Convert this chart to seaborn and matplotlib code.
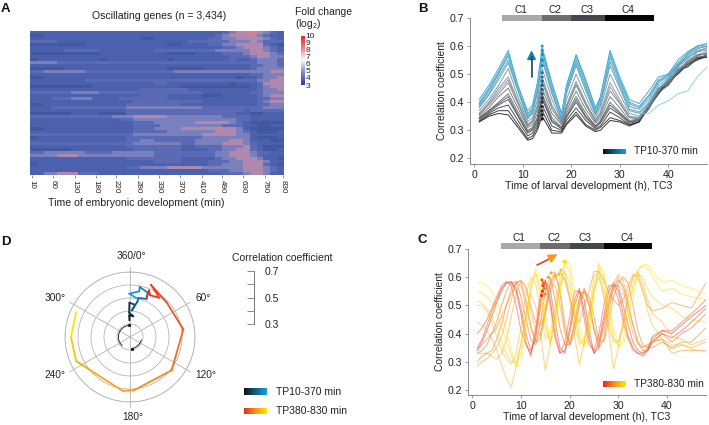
import numpy as np
import pandas as pd
import seaborn as sns
import matplotlib
matplotlib.use("Agg")
import matplotlib.pyplot as plt
from matplotlib.colors import LinearSegmentedColormap

W, H = 709, 425
TXT = "#222222"

sns.set_theme(style="ticks")
plt.rcParams["font.family"] = ["Liberation Sans", "DejaVu Sans"]
plt.rcParams["mathtext.default"] = "regular"
plt.rcParams["axes.edgecolor"] = "#8a8a8a"
plt.rcParams["axes.linewidth"] = 0.7

# panel A, one digit per cell, relative fold change level
time_labels = [10, 60, 130, 180, 220, 280, 330, 370, 410, 490, 630, 760, 830]
heat_rows = [
    "4444444444 4444444444 4444444456 7887654",
    "3344444444 4444444444 4444444567 7776544",
    "4444444444 4444443344 4444445566 7777654",
    "5555444444 4444444444 4445555556 6676555",
    "3333333344 4444444444 3344445566 7777543",
    "4444444444 4444444444 4444444455 6777654",
    "4444455555 4444444455 5555555666 6677654",
    "3333333333 4444444444 3333444455 5677765",
    "4444444444 4444444444 4444444445 5567766",
    "3444444444 3444444444 3444444445 4456665",
    "6666555555 5555555555 5555555555 5556665",
    "4444444444 4444444444 4444444444 4455665",
    "3333344444 4444444444 3333344444 4456666",
    "5566666655 5555555555 5666666666 6666677",
    "4444444444 4444444444 4444444444 4455666",
    "3344444444 4444444444 4444444444 3445667",
    "4444444455 5555555555 5555555555 5556677",
    "4444444444 4444444455 4444444443 4445777",
    "3333333334 4444444444 4433333333 3345677",
    "4444444444 4444445555 5554444444 4445667",
    "5555556666 5555555555 5555544444 4455666",
    "4444444444 4444445555 4444433344 4445677",
    "4445556664 4445555555 4444444444 4445566",
    "4444444444 4444455555 5555544444 4445677",
    "3344444444 4444555555 5544444444 4445566",
    "4445555555 5555666666 6666655555 5555666",
    "4444444444 4444555555 5555555555 5455555",
    "3333334444 3333555555 5555555555 4433444",
    "5555555555 5566677777 6666666655 5544444",
    "4444444444 4445566666 6666666666 5544444",
    "4444444444 4444455566 6666777776 5433333",
    "4444444444 4444455556 6666666655 5443344",
    "3344444444 4444455566 6677777877 6433333",
    "4444444444 4444455555 6666666777 6543334",
    "5555555555 5555566666 6666677777 6644444",
    "3444444444 4444555555 5555566666 6643334",
    "4444444444 4444556655 5555666667 7644433",
    "5555555555 5555566666 6655666677 7654444",
    "4444444444 4444555555 5544555566 6754333",
    "3333334444 4444455555 5544445566 7754334",
    "5566666655 5566666655 5555555667 7765544",
    "6666777666 6666666655 5555555667 7765444",
    "4444444444 4444555555 5544444566 7776443",
    "4444444444 4444444455 5544445556 6777644",
    "3444444444 4444444444 4444445566 6777543",
    "4444444444 4444556666 7777766666 6777654",
    "4444444444 4444444444 4444445556 6777654",
    "4466777555 4444444444 4444444455 5677644",
]
tick_cols = [0.3, 3.4, 6.5, 9.6, 12.6, 15.7, 18.8, 21.9, 25.0, 28.0, 31.1, 34.3, 36.8]
cbar_ticks = [3, 4, 5, 6, 7, 8, 9, 10]

# panel B, hours and correlation per time point, early (black) to late (blue)
hours_b = [1, 3, 5, 7, 9, 11, 12, 13, 14, 16, 18, 19, 21, 23, 25, 26, 28, 30, 32, 34, 36, 38, 40, 42, 44, 46, 48]
tp_b = [
    [.33, .35, .36, .355, .31, .265, .27, .30, .35, .29, .29, .32, .355, .315, .295, .30, .335, .33, .315, .33, .39, .44, .47, .51, .53, .555, .56],
    [.33, .355, .37, .37, .32, .27, .28, .31, .37, .30, .295, .325, .365, .32, .30, .31, .345, .335, .32, .33, .385, .43, .475, .50, .535, .55, .565],
    [.335, .36, .38, .39, .335, .28, .29, .32, .39, .315, .30, .335, .38, .335, .305, .315, .365, .345, .32, .33, .38, .445, .465, .505, .54, .56, .56],
    [.34, .365, .39, .41, .35, .29, .30, .33, .41, .33, .305, .345, .40, .345, .31, .325, .38, .355, .325, .335, .38, .43, .47, .515, .525, .555, .57],
    [.3425, .37, .395, .42, .355, .295, .305, .34, .42, .335, .31, .35, .41, .35, .315, .33, .39, .36, .33, .34, .385, .435, .46, .505, .54, .56, .56],
    [.345, .37, .40, .43, .365, .30, .31, .345, .43, .345, .31, .36, .42, .36, .315, .335, .40, .365, .33, .335, .375, .44, .48, .50, .535, .56, .565],
    [.35, .38, .42, .45, .38, .31, .32, .36, .45, .36, .32, .37, .44, .375, .325, .345, .42, .38, .335, .34, .38, .44, .46, .51, .545, .565, .575],
    [.355, .39, .43, .47, .395, .315, .33, .375, .47, .375, .325, .38, .46, .39, .33, .355, .44, .395, .345, .34, .38, .45, .47, .52, .53, .57, .57],
    [.36, .395, .44, .48, .40, .32, .33, .38, .48, .385, .33, .385, .465, .395, .335, .36, .455, .40, .345, .345, .39, .445, .475, .515, .54, .565, .575],
    [.36, .40, .45, .49, .405, .32, .335, .39, .49, .39, .33, .39, .475, .40, .335, .365, .47, .41, .35, .345, .385, .44, .48, .51, .55, .57, .58],
    [.37, .41, .46, .52, .42, .33, .345, .41, .52, .41, .335, .41, .50, .42, .345, .38, .50, .43, .36, .35, .39, .45, .465, .52, .54, .58, .585],
    [.38, .425, .48, .54, .44, .34, .36, .43, .55, .43, .34, .43, .53, .44, .355, .39, .53, .45, .37, .36, .395, .45, .48, .525, .555, .585, .59],
    [.385, .43, .49, .55, .445, .345, .365, .44, .56, .44, .345, .44, .54, .45, .36, .40, .545, .46, .375, .365, .40, .46, .485, .53, .56, .58, .595],
    [.39, .44, .50, .565, .45, .35, .37, .45, .57, .45, .35, .445, .55, .46, .365, .41, .56, .47, .385, .375, .41, .47, .49, .535, .565, .59, .60],
    [.395, .445, .505, .57, .45, .355, .375, .455, .58, .455, .35, .45, .56, .47, .37, .41, .57, .475, .395, .38, .42, .475, .495, .53, .57, .595, .60],
    [.40, .45, .51, .575, .455, .36, .38, .46, .585, .46, .355, .455, .565, .475, .375, .415, .575, .48, .40, .385, .425, .48, .50, .54, .575, .60, .605],
    [.41, .46, .52, .585, .46, .37, .39, .47, .595, .47, .36, .46, .57, .48, .38, .42, .585, .49, .41, .395, .44, .49, .50, .55, .58, .60, .61],
    [.40, .45, .51, .57, .45, .355, .37, .455, .57, .455, .35, .45, .56, .47, .37, .41, .57, .475, .39, .36, .36, .39, .405, .43, .44, .49, .525],
]
dots_b = [.34, .355, .37, .385, .40, .415, .43, .445, .46, .475, .49, .505, .53, .55, .57, .585, .60]

# panel C, later time points, red to yellow
hours_c = list(range(1, 38)) + [39, 41, 43, 45, 48]
tp_c = [
    [.34, .37, .41, .46, .51, .55, .58, .585, .55, .47, .37, .32, .40, .52, .59, .52, .40, .33, .34, .42, .52, .56, .48, .38, .33, .37, .46, .55, .58, .55, .47, .39, .35, .33, .32, .34, .39, .41, .40, .43, .46, .50],
    [.35, .38, .43, .48, .52, .56, .58, .58, .56, .49, .40, .34, .38, .50, .58, .56, .44, .35, .33, .40, .50, .55, .52, .41, .33, .35, .44, .52, .57, .57, .50, .43, .37, .34, .33, .34, .37, .40, .385, .41, .44, .49],
    [.40, .42, .45, .49, .53, .57, .585, .57, .50, .41, .36, .33, .42, .54, .59, .50, .38, .33, .37, .46, .55, .55, .45, .36, .34, .40, .50, .57, .57, .52, .44, .38, .34, .33, .33, .35, .38, .41, .41, .44, .47, .52],
    [.33, .34, .36, .40, .44, .50, .55, .58, .585, .53, .45, .38, .36, .44, .55, .60, .52, .42, .36, .36, .44, .53, .55, .50, .41, .35, .38, .48, .56, .59, .57, .50, .43, .37, .34, .34, .37, .40, .37, .40, .42, .47],
    [.30, .32, .33, .34, .38, .43, .50, .56, .58, .585, .52, .43, .37, .38, .48, .58, .62, .54, .42, .36, .40, .50, .55, .53, .46, .38, .37, .44, .53, .58, .60, .58, .50, .41, .36, .35, .35, .37, .35, .37, .37, .42],
    [.34, .36, .38, .40, .42, .46, .50, .54, .58, .59, .56, .50, .44, .43, .47, .55, .60, .62, .59, .53, .46, .44, .50, .55, .62, .62, .59, .55, .52, .50, .52, .57, .61, .60, .55, .50, .48, .49, .51, .50, .49, .58],
    [.285, .30, .31, .33, .35, .39, .45, .52, .58, .57, .50, .42, .37, .40, .50, .58, .57, .50, .40, .36, .42, .52, .56, .50, .42, .37, .42, .50, .57, .60, .55, .47, .40, .36, .35, .36, .37, .38, .33, .34, .34, .34],
    [.33, .33, .33, .32, .31, .33, .38, .46, .54, .585, .57, .48, .41, .39, .47, .57, .61, .56, .44, .37, .43, .52, .56, .51, .42, .36, .41, .50, .58, .61, .59, .51, .43, .37, .35, .36, .37, .38, .345, .36, .35, .37],
    [.44, .43, .41, .38, .34, .29, .24, .21, .28, .37, .46, .54, .50, .40, .27, .36, .47, .57, .60, .52, .39, .29, .37, .47, .56, .60, .54, .41, .275, .35, .44, .53, .60, .62, .58, .52, .47, .44, .39, .38, .36, .38],
    [.50, .50, .48, .44, .39, .34, .31, .29, .33, .42, .54, .60, .58, .48, .38, .40, .50, .60, .62, .54, .43, .36, .38, .48, .60, .62, .53, .42, .37, .37, .44, .54, .60, .61, .56, .48, .43, .38, .36, .36, .345, .335],
    [.515, .51, .49, .46, .42, .37, .33, .30, .30, .36, .47, .58, .61, .54, .42, .37, .46, .58, .62, .58, .47, .38, .36, .45, .56, .63, .57, .46, .38, .37, .42, .50, .57, .61, .60, .56, .53, .50, .49, .46, .45, .44],
    [.55, .545, .53, .51, .47, .42, .37, .32, .29, .33, .44, .56, .62, .56, .44, .36, .43, .57, .65, .62, .50, .39, .35, .41, .55, .65, .60, .49, .39, .35, .38, .46, .56, .63, .64, .63, .60, .55, .56, .54, .53, .52],
    [.58, .58, .57, .55, .52, .47, .41, .34, .28, .30, .41, .55, .63, .60, .48, .37, .40, .54, .65, .65, .55, .43, .36, .38, .52, .64, .62, .52, .42, .36, .36, .42, .52, .62, .645, .645, .62, .58, .59, .57, .56, .54],
]
dots_c_x = [14.2, 14.4, 14.5, 14.3, 14.6, 14.8, 15.0, 15.6, 16.2, 17.0, 17.8, 18.2, 18.8, 19.2]
dots_c_y = [.535, .55, .57, .59, .58, .56, .54, .60, .615, .605, .61, .625, .655, .655]

# panel D, angle (deg) and correlation of the phase trajectories
theta_early = [358, 358, 9, 358, 359, 9, 4, 12, 12, 23.5, 22, 11, 11.5, 359, 11]
r_early = [.328, .367, .361, .387, .464, .451, .405, .48, .507, .52, .567, .592, .559, .533, .50]
theta_late = [22.6, 22.2, 25.6, 36.7, 21.9, 46.9, 81.8, 128.7, 175.7, 187.7, 246, 270, 294.3]
r_late = [.533, .587, .556, .577, .633, .587, .615, .61, .611, .619, .654, .654, .656]
late_shade = [0, .03, .06, .09, .14, .22, .32, .45, .55, .62, .8, 1.0]
theta_arc_1 = [355, 335, 315, 295, 275, 255, 235, 222]
theta_arc_2 = [172, 155, 135, 118, 104]
r_arc = .29

stage_names = ["C1", "C2", "C3", "C4"]
stage_start = [5.8, 14, 20, 27]
stage_end = [14, 20, 27, 37]
stage_colors = ["#a9a9a9", "#6c6c72", "#46464e", "#060606"]

heat_cmap = LinearSegmentedColormap.from_list("body", ["#41589f", "#4b61ae", "#5a6ab4", "#7a7fbd", "#b088ae", "#e07f85"])
cbar_cmap = LinearSegmentedColormap.from_list("fc", [
    (0, "#24419a"), (2 / 7, "#8f97cc"), (3.5 / 7, "#ffffff"), (5 / 7, "#ec8f90"), (1, "#e02026")])
early_cmap = LinearSegmentedColormap.from_list("early", ["#111111", "#7d8a92", "#2a9fd0"])
early_bar_cmap = LinearSegmentedColormap.from_list("earlybar", ["#111111", "#0d5f85", "#18a0de"])
late_cmap = LinearSegmentedColormap.from_list("late", ["#e8291c", "#f7941d", "#ffe600"])


def axes_px(fig, left, top, right, bottom, **kw):
    return fig.add_axes([left / W, 1 - bottom / H, (right - left) / W, (bottom - top) / H], **kw)


def text_px(fig, x, y, s, size=7.3, ha="left", va="center", **kw):
    fig.text(x / W, 1 - y / H, s, fontsize=size, ha=ha, va=va, color=kw.pop("color", TXT), **kw)


def gradient_bar(fig, left, top, right, bottom, cmap):
    ax = axes_px(fig, left, top, right, bottom)
    ax.imshow(np.linspace(0, 1, 64)[None, :], cmap=cmap, aspect="auto")
    ax.axis("off")


def to_long(hours, lines):
    return pd.DataFrame([
        {"hour": h, "corr": v, "tp": i}
        for i, line in enumerate(lines)
        for h, v in zip(hours, line, strict=True)
    ])


def style_corr(ax, xlim, ylim, y_bar):
    ax.set_xlim(*xlim)
    ax.set_ylim(*ylim)
    ax.set_xticks([0, 10, 20, 30, 40])
    ax.set_yticks([.2, .3, .4, .5, .6, .7])
    ax.tick_params(labelsize=7.6, length=2.5, width=0.6, color="#8a8a8a", labelcolor=TXT, pad=1.5)
    ax.set_xlabel("Time of larval development (h), TC3", fontsize=7.6, color=TXT, labelpad=1)
    ax.set_ylabel("Correlation coefficient", fontsize=7.4, color=TXT, labelpad=2)
    sns.despine(ax=ax)
    for name, s, e, c in zip(stage_names, stage_start, stage_end, stage_colors):
        ax.fill_between([s, e], y_bar[0], y_bar[1], color=c, lw=0, clip_on=False)
        ax.text((s + e) / 2 - 0.3, y_bar[1] + .002, name, fontsize=7.3, color=TXT, ha="center", va="bottom")


fig = plt.figure(figsize=(W / 100, H / 100), dpi=100)

# A
rows = [r.replace(" ", "") for r in heat_rows]
heat = np.array([[int(c) for c in r] for r in rows], dtype=float)
ax = axes_px(fig, 30, 31, 284, 175)
sns.heatmap(heat, ax=ax, cmap=heat_cmap, vmin=3, vmax=8, cbar=False, xticklabels=False, yticklabels=False)
ax.set_xticks(tick_cols)
ax.set_xticklabels(time_labels, rotation=-90, fontsize=5.8, color=TXT)
ax.tick_params(axis="x", length=2, width=0.5, color="#666666", pad=1.5, bottom=True)
text_px(fig, 136.5, 203, "Time of embryonic development (min)", size=7.6, ha="center")
cax = axes_px(fig, 300.7, 35.5, 304, 85)
cax.imshow(np.linspace(3, 10, 64)[:, None], origin="lower", aspect="auto", extent=[0, 1, 3, 10], cmap=cbar_cmap)
cax.set_xticks([])
cax.set_yticks(cbar_ticks)
cax.yaxis.tick_right()
cax.tick_params(labelsize=6, length=0, pad=1, labelcolor=TXT)
sns.despine(ax=cax, left=True, bottom=True, right=True, top=True)
text_px(fig, 159, 16, "Oscillating genes (n = 3,434)", size=7.6, ha="center")
text_px(fig, 295, 12, "Fold change", size=7.5)
text_px(fig, 295, 24, "(log$_2$)", size=7.5)

# B
ax = axes_px(fig, 470, 18, 707, 164)
sns.lineplot(data=to_long(hours_b, tp_b), x="hour", y="corr", hue="tp", ax=ax, legend=False,
             palette=[early_cmap(i / (len(tp_b) - 2)) if i < len(tp_b) - 1 else "#6fd0ee" for i in range(len(tp_b))],
             estimator=None, errorbar=None, lw=0.7, alpha=0.85)
ax.scatter([14] * len(dots_b), dots_b, s=1.4, c=np.linspace(0, 1, len(dots_b)), cmap=early_bar_cmap, zorder=4)
ax.plot([11.8, 11.8], [.49, .56], color="#17485f", lw=1.2, zorder=4)
ax.annotate("", xy=(11.8, .595), xytext=(11.8, .54),
            arrowprops=dict(arrowstyle="-|>", color="#1b7ea8", lw=1.2, mutation_scale=13))
style_corr(ax, (-0.89, 48), (.18, .70), (.69, .71))
gradient_bar(fig, 603, 149, 626, 154.5, early_bar_cmap)
text_px(fig, 634, 151.5, "TP10-370 min", size=7.3)

# C
ax = axes_px(fig, 468, 249, 706, 395)
sns.lineplot(data=to_long(hours_c, tp_c), x="hour", y="corr", hue="tp", ax=ax, legend=False,
             palette=[late_cmap(i / (len(tp_c) - 1)) for i in range(len(tp_c))],
             estimator=None, errorbar=None, lw=0.8, alpha=0.48)
ax.scatter(dots_c_x, dots_c_y, s=1.6, c=np.linspace(0, 0.7, len(dots_c_x)), cmap=late_cmap, zorder=4)
ax.plot([13.3, 15.5], [.643, .662], color="#ea3f22", lw=1.2, zorder=4)
ax.annotate("", xy=(18, .686), xytext=(15, .658),
            arrowprops=dict(arrowstyle="-|>", color="#f59a1d", lw=1.2, mutation_scale=13))
style_corr(ax, (-0.89, 48), (.182, .70), (.70, .72))
gradient_bar(fig, 603, 381, 626, 387, late_cmap)
text_px(fig, 634, 384, "TP380-830 min", size=7.3)

# D
ax = axes_px(fig, 65, 272, 195, 402, projection="polar")
ax.set_theta_zero_location("N")
ax.set_theta_direction(-1)
early_shade = [i / (len(theta_early) - 2) for i in range(len(theta_early) - 1)]
for th, rr, cm, shade in [(theta_early, r_early, early_bar_cmap, early_shade), (theta_late, r_late, late_cmap, late_shade)]:
    seg = pd.DataFrame([
        {"theta": np.radians(th[k]), "r": rr[k], "seg": i}
        for i in range(len(th) - 1) for k in (i, i + 1)
    ])
    sns.lineplot(data=seg, x="theta", y="r", hue="seg", ax=ax, legend=False, sort=False, estimator=None,
                 errorbar=None, palette=[cm(s) for s in shade], lw=1.3)
for arc in (theta_arc_1, theta_arc_2):
    ax.plot(np.radians(arc), [r_arc] * len(arc), color="#111111", lw=0.6)
    ax.plot(np.radians(arc[:1]), [r_arc], marker="o", ms=1.3, color="#111111")
ax.set_xlabel("")
ax.set_ylabel("")
ax.set_ylim(.2, .7)
ax.set_yticks([.3, .4, .5, .6, .7])
ax.set_yticklabels([])
ax.set_xticks(np.radians([0, 60, 120, 180, 240, 300]))
ax.set_xticklabels([])
ax.grid(True, color="#b5b5b5", lw=0.6)
ax.spines["polar"].set_color("#b5b5b5")
ax.spines["polar"].set_linewidth(0.6)
for a in [0, 60, 120, 180, 240, 300]:
    ax.plot(np.radians([a, a]), [.7, .735], color="#b5b5b5", lw=0.6, clip_on=False)
for lab, x, y in [("360/0°", 131, 256), ("60°", 203, 298), ("120°", 206, 375),
                  ("180°", 133, 417), ("240°", 55, 375), ("300°", 55, 298)]:
    text_px(fig, x, y, lab, size=7.3, ha="center")

scale = axes_px(fig, 254, 271, 256, 324)
scale.set_ylim(.3, .7)
scale.set_xticks([])
scale.set_yticks([.3, .4, .5, .6, .7])
scale.set_yticklabels(["0.3", "", "0.5", "", "0.7"])
scale.tick_params(left=True, labelleft=False, right=False, labelright=True, labelsize=7.5,
                  length=5, width=0.6, color="#777777", labelcolor=TXT, pad=1)
sns.despine(ax=scale, left=False, right=True, top=True, bottom=True)
scale.spines["left"].set_color("#777777")
scale.patch.set_alpha(0)
text_px(fig, 232, 258, "Correlation coefficient", size=7.5)

gradient_bar(fig, 244, 388, 267, 395, early_bar_cmap)
text_px(fig, 276, 392, "TP10-370 min", size=7.5)
gradient_bar(fig, 244, 408, 267, 414, late_cmap)
text_px(fig, 276, 411, "TP380-830 min", size=7.5)

for letter, x, y in [("A", 1, 9), ("B", 418, 9), ("C", 418, 240), ("D", 1, 242)]:
    text_px(fig, x, y, letter, size=9.5, fontweight="bold", color="#111111")

fig.savefig("out.png", dpi=100)
